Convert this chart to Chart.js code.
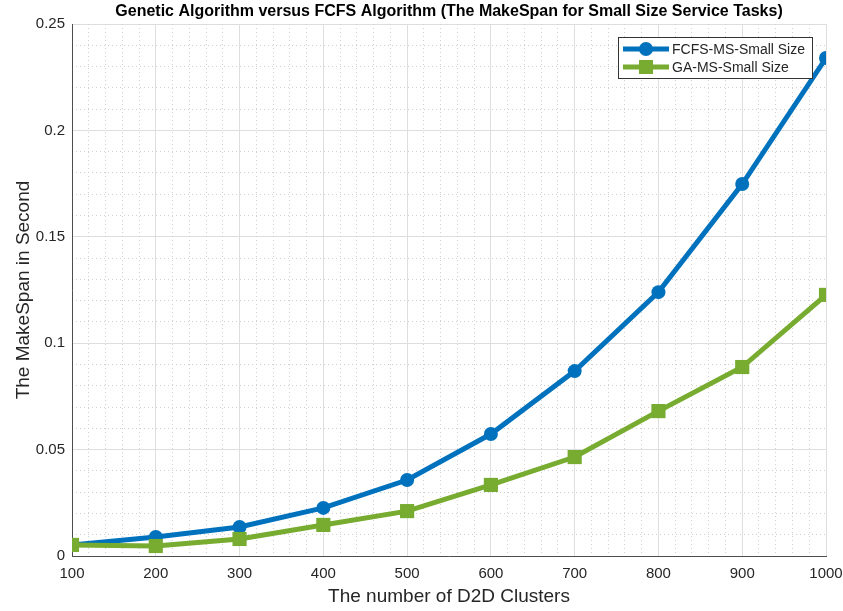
<!DOCTYPE html>
<html>
<head>
<meta charset="utf-8">
<script src="https://cdn.jsdelivr.net/npm/chart.js@4/dist/chart.umd.min.js"></script>
<style>
  html, body { margin: 0; padding: 0; background: #fff; }
  #wrap { width: 843px; height: 611px; }
</style>
</head>
<body>
<div id="wrap"><canvas id="chart"></canvas></div>
<script>
'use strict';
// DATA
const clusters = [100, 200, 300, 400, 500, 600, 700, 800, 900, 1000];
const fcfsValues = [0.0052, 0.0089, 0.0136, 0.0226, 0.0357, 0.0573, 0.0869, 0.124, 0.1748, 0.234];
const gaValues = [0.0052, 0.0047, 0.008, 0.0146, 0.0211, 0.0334, 0.0465, 0.0681, 0.0888, 0.1227];
const seriesNames = ['FCFS-MS-Small Size', 'GA-MS-Small Size'];
const yTicks = [0, 0.05, 0.1, 0.15, 0.2, 0.25];
const chartTitle = 'Genetic Algorithm versus FCFS Algorithm (The MakeSpan for Small Size Service Tasks)';

const FONT = '"Liberation Sans", Arial, sans-serif';
const TEXT = '#262626';
const BLUE = '#0072BD';
const GREEN = '#77AC30';

// TITLE CENTERED OVER THE PLOT AREA (LIKE MATLAB)
const axesTitle = {
  id: 'axesTitle',
  afterDraw(chart) {
    const ctx = chart.ctx;
    const area = chart.chartArea;
    ctx.save();
    ctx.fillStyle = '#000';
    ctx.font = 'bold 16px ' + FONT;
    ctx.textAlign = 'center';
    ctx.textBaseline = 'middle';
    ctx.fillText(chartTitle, (area.left + area.right) / 2, 11.5);
    ctx.restore();
  }
};

// LEGEND DRAWN INSIDE THE PLOT AREA (TOP RIGHT)
const insideLegend = {
  id: 'insideLegend',
  afterDraw(chart) {
    const ctx = chart.ctx;
    const area = chart.chartArea;
    const w = 194, h = 41;
    const x0 = area.right - 14 - w;
    const y0 = area.top + 13;
    ctx.save();
    ctx.fillStyle = '#fff';
    ctx.fillRect(x0, y0, w, h);
    ctx.strokeStyle = '#333';
    ctx.lineWidth = 1;
    ctx.strokeRect(x0 + 0.5, y0 + 0.5, w, h);
    chart.data.datasets.forEach((ds, i) => {
      const y = y0 + 12 + i * 18;
      ctx.strokeStyle = ds.borderColor;
      ctx.lineWidth = 5;
      ctx.beginPath();
      ctx.moveTo(x0 + 5, y);
      ctx.lineTo(x0 + 51, y);
      ctx.stroke();
      ctx.fillStyle = ds.borderColor;
      if (ds.pointStyle === 'rect') {
        ctx.fillRect(x0 + 28 - 7, y - 7, 14, 14);
      } else {
        ctx.beginPath();
        ctx.arc(x0 + 28, y, 7, 0, Math.PI * 2);
        ctx.fill();
      }
      ctx.fillStyle = TEXT;
      ctx.font = '14px ' + FONT;
      ctx.textBaseline = 'middle';
      ctx.fillText(ds.label, x0 + 54, y + 1);
    });
    ctx.restore();
  }
};

const minorX = (c) => (c.tick && c.tick.value % 100 === 0 ? 'rgba(0,0,0,0)' : '#d0d0d0');
const minorY = (c) => (c.tick && Math.round(c.tick.value * 100) % 5 === 0 ? 'rgba(0,0,0,0)' : '#d0d0d0');

const config = {
  type: 'line',
  data: {
    datasets: [
      {
        label: seriesNames[0],
        data: clusters.map((x, i) => ({ x: x, y: fcfsValues[i] })),
        borderColor: BLUE,
        backgroundColor: BLUE,
        borderWidth: 5,
        pointStyle: 'circle',
        pointRadius: 7,
        pointBorderWidth: 0,
        order: 1,
      },
      {
        label: seriesNames[1],
        data: clusters.map((x, i) => ({ x: x, y: gaValues[i] })),
        borderColor: GREEN,
        backgroundColor: GREEN,
        borderWidth: 5,
        pointStyle: 'rect',
        pointRadius: 10,
        pointBorderWidth: 0,
        order: 0,
      },
    ],
  },
  options: {
    responsive: true,
    maintainAspectRatio: false,
    animation: false,
    layout: { padding: 0 },
    plugins: {
      legend: { display: false },
      tooltip: { enabled: false },
      title: { display: false },
    },
    scales: {
      x: {
        type: 'linear',
        position: 'bottom',
        min: 100,
        max: 1000,
        afterFit: (s) => { s.height = 55; s.paddingLeft = 0; s.paddingRight = 0; },
        afterBuildTicks: (s) => { s.ticks = clusters.map((v) => ({ value: v })); },
        ticks: {
          color: TEXT,
          font: { family: FONT, size: 15 },
          padding: 9,
          maxRotation: 0,
          callback: (v) => String(v),
        },
        grid: { color: '#dedede', drawTicks: false },
        border: { color: '#4d4d4d', width: 1 },
        title: {
          display: true,
          text: 'The number of D2D Clusters',
          color: TEXT,
          font: { family: FONT, size: 19 },
          padding: { top: 0, bottom: 3 },
        },
      },
      y: {
        type: 'linear',
        position: 'left',
        min: 0,
        max: 0.25,
        afterFit: (s) => { s.width = 72; s.paddingTop = 0; s.paddingBottom = 0; },
        afterBuildTicks: (s) => { s.ticks = yTicks.map((v) => ({ value: v })); },
        ticks: {
          color: TEXT,
          font: { family: FONT, size: 15 },
          padding: 7,
          callback: (v) => String(Number(v.toFixed(2))),
        },
        grid: { color: '#dedede', drawTicks: false },
        border: { color: '#4d4d4d', width: 1 },
        title: {
          display: true,
          text: 'The MakeSpan in Second',
          color: TEXT,
          font: { family: FONT, size: 19 },
          padding: { top: 12, bottom: 0 },
        },
      },
      xMinor: {
        type: 'linear',
        position: 'top',
        min: 100,
        max: 1000,
        afterFit: (s) => { s.height = 24; s.paddingLeft = 0; s.paddingRight = 0; },
        ticks: { display: false, stepSize: 20 },
        grid: { color: minorX, drawTicks: false, lineWidth: 1 },
        border: { display: false, dash: [1, 3] },
      },
      yMinor: {
        type: 'linear',
        position: 'right',
        min: 0,
        max: 0.25,
        afterFit: (s) => { s.width = 17; s.paddingTop = 0; s.paddingBottom = 0; },
        ticks: { display: false, stepSize: 0.01 },
        grid: { color: minorY, drawTicks: false, lineWidth: 1 },
        border: { display: false, dash: [1, 3] },
      },
    },
  },
  plugins: [axesTitle, insideLegend],
};

const makespanChart = new Chart(document.querySelector('#chart'), config);
</script>
</body>
</html>
